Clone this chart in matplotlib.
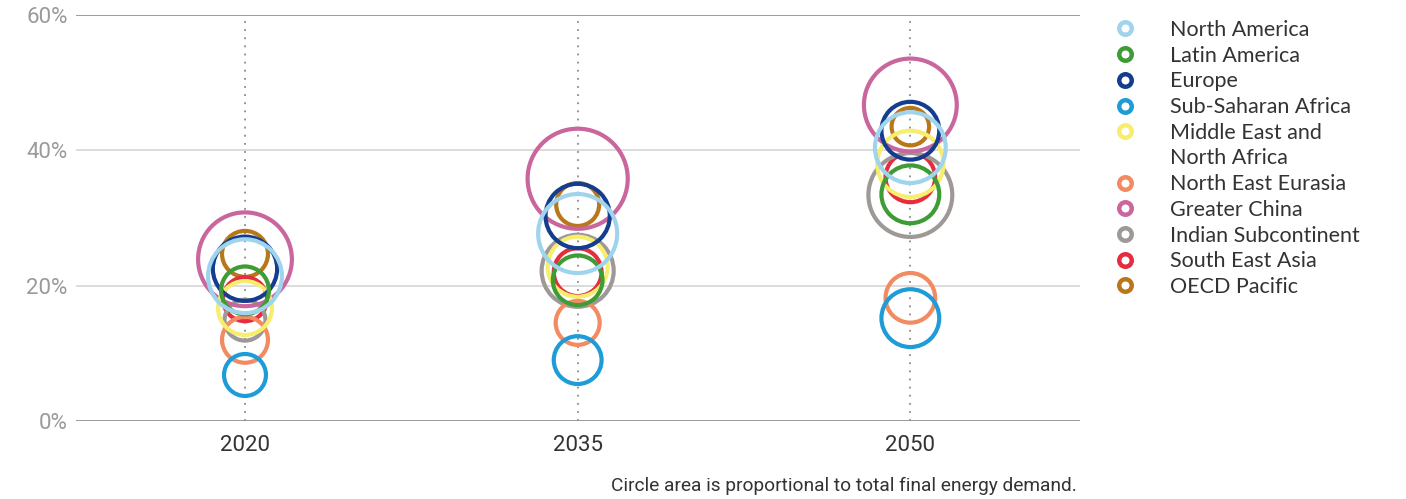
import matplotlib
matplotlib.use("Agg")
import matplotlib.pyplot as plt
from matplotlib.lines import Line2D
from matplotlib.ticker import PercentFormatter

plt.rcParams['font.family'] = ['Roboto', 'DejaVu Sans']

# Data
years = ['2020', '2035', '2050']
regions = ['North America', 'Latin America', 'Europe', 'Sub-Saharan Africa',
           'Middle East and\nNorth Africa', 'North East Eurasia', 'Greater China',
           'Indian Subcontinent', 'South East Asia', 'OECD Pacific']
colors = ['#9fd4ec', '#3f9b35', '#143d8f', '#1e9cd7', '#f7ee6e',
          '#f28a62', '#c9669d', '#9e9896', '#e52d3e', '#b9771c']

# share (%) per region, one list per year
share_2020 = [21.4, 19.3, 22.5, 6.8, 16.7, 12.0, 23.9, 14.9, 18.0, 24.7]
share_2035 = [27.7, 20.8, 30.3, 9.0, 22.8, 14.5, 35.8, 22.2, 22.0, 32.0]
share_2050 = [40.4, 33.5, 42.9, 15.2, 38.0, 18.2, 46.7, 33.4, 36.0, 43.5]

# total final energy demand (relative units) -> circle area
demand_2020 = [62, 26, 47, 20, 33, 24, 100, 19, 22, 24]
demand_2035 = [71, 28, 47, 26, 41, 22, 114, 59, 26, 21]
demand_2050 = [57, 38, 38, 38, 50, 28, 98, 80, 28, 16]

shares = [share_2020, share_2035, share_2050]
demands = [demand_2020, demand_2035, demand_2050]

fig = plt.figure(figsize=(14.06, 4.99), dpi=100)
ax = fig.add_axes([76 / 1406, 1 - 421 / 499, (1080 - 76) / 1406, (421 - 15) / 499])

ax.set_xlim(-0.508, 2.51)
ax.set_ylim(0, 60)

# gridlines
for y in [20, 40]:
    ax.axhline(y, color='#dcdcdc', lw=1.4, zorder=0)
for y in [0, 60]:
    ax.axhline(y, color='#8a8a8a', lw=1.2, zorder=0)
for i in range(len(years)):
    ax.axvline(i, color='#8a8a8a', lw=1.3, ls=(0, (1, 3.5)), zorder=0)

SIZE_K = 45.6
# draw in reverse legend order so North America ends up on top
for j in reversed(range(len(regions))):
    for i in range(len(years)):
        ax.scatter(i, shares[i][j], s=SIZE_K * demands[i][j], facecolors='none',
                   edgecolors=colors[j], linewidths=3.0, zorder=2 + (len(regions) - j))

for s in ax.spines.values():
    s.set_visible(False)

ax.set_xticks(range(len(years)))
ax.set_xticklabels(years)
ax.set_yticks([0, 20, 40, 60])
ax.yaxis.set_major_formatter(PercentFormatter(decimals=0))
ax.tick_params(axis='both', length=0)
ax.tick_params(axis='x', labelsize=16, colors='#333333', pad=10)
ax.tick_params(axis='y', labelsize=16, colors='#9a9a9a', pad=6)

# legend: wrapped names get an extra row without marker, marker sits on first line
handles, labels = [], []
for name, c in zip(regions, colors):
    lines = name.split('\n')
    handles.append(Line2D([], [], marker='o', ls='None', markersize=9, markeredgewidth=3.2,
                          markerfacecolor='white', markeredgecolor=c))
    labels.append(lines[0])
    for extra in lines[1:]:
        handles.append(Line2D([], [], ls='None'))
        labels.append(extra)

leg = fig.legend(handles, labels, loc='upper left', bbox_to_anchor=(0.794, 0.96),
                 frameon=False, fontsize=15.5, handlelength=0.8, handletextpad=1.71,
                 labelspacing=0.265, borderpad=0, borderaxespad=0)
for t in leg.get_texts():
    t.set_color('#333333')
    t.set_family(['Lato', 'DejaVu Sans'])

fig.text(1077 / 1406, 1 - 486 / 499, 'Circle area is proportional to total final energy demand.',
         ha='right', va='center', fontsize=13.8, color='#333333')

fig.savefig('out.png', dpi=100)
